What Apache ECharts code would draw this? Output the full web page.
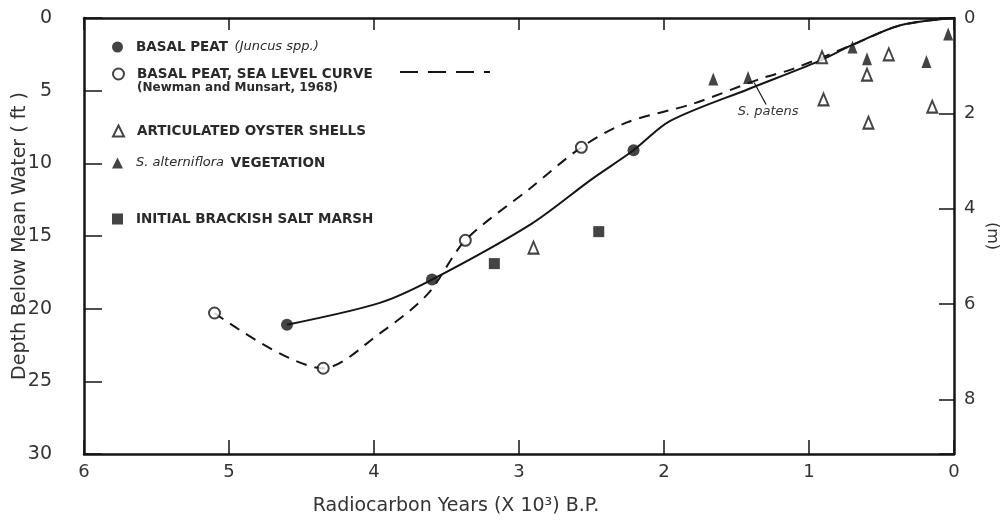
<!DOCTYPE html>
<html>
<head>
<meta charset="utf-8">
<script src="https://cdn.jsdelivr.net/npm/echarts@6/dist/echarts.min.js"></script>
<style>html,body{margin:0;padding:0;background:#fff}#c{width:1007px;height:525px}</style>
</head>
<body>
<div id="c"></div>
<script>
// ---- data (x: radiocarbon years x10^3 B.P., y: depth in ft) ----
const xTicks = [6, 5, 4, 3, 2, 1, 0];
const ftTicks = [0, 5, 10, 15, 20, 25, 30];
const mTicks = [0, 2, 4, 6, 8];
const basalPeat = [[4.6, 21.1], [3.6, 18.0], [2.21, 9.1]];
const seaLevelPts = [[5.1, 20.3], [4.35, 24.1], [3.37, 15.3], [2.57, 8.9]];
const oysterShells = [[2.9, 15.8], [0.91, 2.7], [0.45, 2.5], [0.6, 3.9], [0.9, 5.6], [0.15, 6.1], [0.59, 7.2]];
const spartina = [[1.66, 4.2], [1.42, 4.1], [0.7, 2.0], [0.6, 2.8], [0.19, 3.0], [0.04, 1.1]];
const brackishMarsh = [[3.17, 16.9], [2.45, 14.7]];
const fittedCurve = [[4.6, 21.1], [3.96, 19.6], [3.6, 18.0], [2.92, 14.2], [2.5, 11.1], [2.21, 9.1], [1.96, 7.1], [1.42, 4.9], [0.94, 3.0], [0.7, 1.85], [0.37, 0.5], [0, 0]];
const seaLevelCurve = [[5.1, 20.3], [4.35, 24.1], [3.96, 21.7], [3.63, 19.0], [3.37, 15.3], [2.92, 11.7], [2.57, 8.9], [2.26, 7.2], [1.8, 5.9], [1.34, 4.2], [1.11, 3.5], [0.7, 1.85], [0.37, 0.5], [0, 0]];
const FT_PER_M = 3.2808;

const names = {
  peat: 'BASAL PEAT (Juncus spp.)',
  sea: 'BASAL PEAT, SEA LEVEL CURVE',
  oyster: 'ARTICULATED OYSTER SHELLS',
  spart: 'S. alterniflora VEGETATION',
  marsh: 'INITIAL BRACKISH SALT MARSH'
};

const INK = '#151515';
const TXT = '#333';
const F = 'DejaVu Sans';
const rich = {
  n: {fontFamily: F, fontWeight: 'bold', fontSize: 13.5, color: '#2a2a2a'},
  i: {fontFamily: F, fontStyle: 'italic', fontSize: 13, color: '#2a2a2a'}
};
function lg(name, icon, top, fmt) {
  return {
    data: [name], left: 112, top: top, icon: icon, itemWidth: 11, itemHeight: 11,
    selectedMode: false, padding: 0,
    textStyle: {padding: [0, 0, 0, 8], rich: rich},
    formatter: () => fmt
  };
}

const chart = echarts.init(document.getElementById('c'), null, {renderer: 'canvas'});
const axisLine = {show: true, onZero: false, lineStyle: {color: INK, width: 2.5}};
const option = {
  backgroundColor: '#fff',
  animation: false,
  grid: {left: 84, right: 53, top: 18, bottom: 71, outerBoundsMode: 'none', containLabel: false},
  legend: [
    lg(names.peat, 'circle', 40, '{n|BASAL PEAT}  {i|(Juncus spp.)}'),
    lg(names.sea, 'emptyCircle', 67, '{n|BASAL PEAT, SEA LEVEL CURVE}'),
    lg(names.oyster, 'emptyTriangle', 124, '{n|ARTICULATED OYSTER SHELLS}'),
    lg(names.spart, 'triangle', 156, '{i|S. alterniflora}  {n|VEGETATION}'),
    lg(names.marsh, 'rect', 212, '{n|INITIAL BRACKISH SALT MARSH}')
  ],
  xAxis: [
    {
      type: 'value', min: 0, max: 6, interval: 1, inverse: true, position: 'bottom',
      axisLine: axisLine, splitLine: {show: false},
      axisTick: {show: true, inside: true, length: 14, lineStyle: {color: INK, width: 1.5}},
      axisLabel: {show: true, margin: 9, fontFamily: F, fontSize: 18, color: TXT,
        formatter: v => (xTicks.indexOf(v) >= 0 ? String(v) : '')},
      name: 'Radiocarbon Years (X 10³) B.P.', nameLocation: 'middle', nameGap: 43, nameMoveOverlap: false,
      nameTextStyle: {fontFamily: F, fontSize: 19, color: TXT, padding: [0, 126, 0, 0]}
    },
    {
      type: 'value', min: 0, max: 6, interval: 1, inverse: true, position: 'top',
      axisLine: axisLine, splitLine: {show: false},
      axisTick: {show: true, inside: true, length: 12, lineStyle: {color: INK, width: 1.5}},
      axisLabel: {show: false}
    }
  ],
  yAxis: [
    {
      type: 'value', min: 0, max: 30, interval: 5, inverse: true, position: 'left',
      axisLine: axisLine, splitLine: {show: false},
      axisTick: {show: true, inside: true, length: 18, lineStyle: {color: INK, width: 1.5}},
      axisLabel: {margin: 32, fontFamily: F, fontSize: 19, color: TXT,
        formatter: v => (ftTicks.indexOf(v) >= 0 ? String(v) : '')},
      name: 'Depth Below Mean Water ( ft )', nameLocation: 'middle', nameGap: 54, nameRotate: 90,
      nameMoveOverlap: false,
      nameTextStyle: {fontFamily: F, fontSize: 19, color: TXT}
    },
    {
      type: 'value', min: 0, max: 30 / FT_PER_M, interval: 2, inverse: true, position: 'right',
      axisLine: axisLine, splitLine: {show: false},
      axisTick: {show: true, inside: true, length: 15, lineStyle: {color: INK, width: 1.5}},
      axisLabel: {margin: 10, fontFamily: F, fontSize: 18, color: TXT,
        formatter: v => (mTicks.some(t => Math.abs(t - v) < 1e-6) ? String(Math.round(v)) : '')},
      name: '(m)', nameLocation: 'middle', nameGap: 30, nameRotate: -90, nameMoveOverlap: false,
      nameTextStyle: {fontFamily: F, fontSize: 16, color: TXT}
    }
  ],
  series: [
    {
      name: 'Fitted curve', type: 'line', data: fittedCurve, smooth: 0.3, showSymbol: false,
      lineStyle: {color: INK, width: 2}, z: 2, silent: true
    },
    {
      name: 'Sea level curve (Newman and Munsart, 1968)', type: 'line', data: seaLevelCurve, smooth: 0.3,
      showSymbol: false, lineStyle: {color: INK, width: 2, type: [11, 8]}, z: 2, silent: true
    },
    {
      name: names.peat, type: 'scatter', data: basalPeat, symbol: 'circle', symbolSize: 12,
      itemStyle: {color: INK}, z: 5
    },
    {
      name: names.sea, type: 'scatter', data: seaLevelPts, symbol: 'emptyCircle', symbolSize: 11,
      itemStyle: {color: INK, borderColor: INK, borderWidth: 2}, z: 5
    },
    {
      name: names.oyster, type: 'scatter', data: oysterShells, symbol: 'emptyTriangle', symbolSize: [10, 12],
      itemStyle: {color: INK, borderColor: INK, borderWidth: 1.6}, z: 5
    },
    {
      name: names.spart, type: 'scatter', data: spartina, symbol: 'triangle', symbolSize: [10, 13],
      itemStyle: {color: INK}, z: 5
    },
    {
      name: names.marsh, type: 'scatter', data: brackishMarsh, symbol: 'rect', symbolSize: 11,
      itemStyle: {color: INK}, z: 5
    }
  ]
};
chart.setOption(option);

// annotations tied to the data via the chart's own scales
const p = chart.convertToPixel({xAxisIndex: 0, yAxisIndex: 0}, spartina[1]);
chart.setOption({
  graphic: [
    {type: 'line', shape: {x1: 400, y1: 72, x2: 490, y2: 72},
      style: {stroke: INK, lineWidth: 2, lineDash: [18, 10]}},
    {type: 'text', left: 137, top: 82,
      style: {text: '(Newman and Munsart, 1968)', fontFamily: F, fontWeight: 'bold', fontSize: 12, fill: '#2a2a2a'}},
    {type: 'line', shape: {x1: p[0] + 6, y1: p[1] + 5, x2: p[0] + 18, y2: p[1] + 27},
      style: {stroke: INK, lineWidth: 1.2}},
    {type: 'text', x: p[0] + 20, y: p[1] + 28,
      style: {text: 'S. patens', fontFamily: F, fontStyle: 'italic', fontSize: 13, fill: '#333', align: 'center', verticalAlign: 'top'}}
  ]
});
</script>
</body>
</html>
